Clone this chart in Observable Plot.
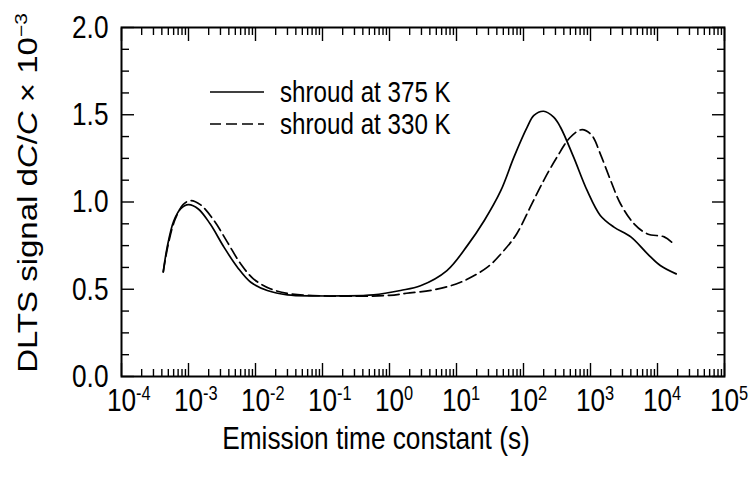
<!DOCTYPE html>
<html><head><meta charset="utf-8">
<script src="https://cdn.jsdelivr.net/npm/d3@7"></script>
<script src="https://cdn.jsdelivr.net/npm/@observablehq/plot@0.6"></script>
<style>body{margin:0;background:#fff} svg{display:block}</style>
</head><body><div id="chart"></div>
<script>
// Series: shroud at 375 K (solid)
const solidT = [4.2e-4, 4.8e-4, 6.0e-4, 7.6e-4, 1.0e-3, 1.4e-3, 2.1e-3, 3.4e-3, 5.4e-3, 8.5e-3, 0.015, 0.03, 0.074, 0.19, 0.58, 1.46, 2.9, 7.2, 14.5, 26, 46, 72, 114, 143, 200, 282, 355, 560, 890, 1400, 2240, 4000, 7100, 11000, 19000];
const solidV = [0.60, 0.74, 0.89, 0.96, 0.985, 0.96, 0.875, 0.74, 0.625, 0.54, 0.493, 0.468, 0.462, 0.462, 0.468, 0.493, 0.52, 0.607, 0.75, 0.894, 1.066, 1.257, 1.43, 1.496, 1.52, 1.486, 1.43, 1.257, 1.066, 0.923, 0.856, 0.80, 0.703, 0.636, 0.588];
// Series: shroud at 330 K (dashed)
const dashT = [4.2e-4, 5.0e-4, 6.3e-4, 8.3e-4, 1.07e-3, 1.5e-3, 2.4e-3, 3.8e-3, 6.0e-3, 9.3e-3, 0.0166, 0.033, 0.1, 0.32, 1.0, 1.8, 4.6, 11.5, 29, 51, 79, 126, 200, 316, 500, 750, 1050, 1400, 2000, 2800, 4470, 7100, 12600, 17400];
const dashV = [0.60, 0.76, 0.90, 0.985, 1.008, 0.985, 0.894, 0.77, 0.646, 0.56, 0.503, 0.474, 0.462, 0.46, 0.465, 0.477, 0.497, 0.54, 0.627, 0.722, 0.817, 0.97, 1.123, 1.257, 1.371, 1.415, 1.381, 1.276, 1.123, 0.99, 0.875, 0.817, 0.80, 0.76];

const legendLabels = ["shroud at 375 K", "shroud at 330 K"];
const xTitle = "Emission time constant (s)";
const yTitle = "DLTS signal dC/C × 10−3";
const xMajor = [1e-4, 1e-3, 1e-2, 1e-1, 1e0, 1e1, 1e2, 1e3, 1e4, 1e5];
const xExp = ["-4", "-3", "-2", "-1", "0", "1", "2", "3", "4", "5"];
const yMajor = [0, 0.5, 1.0, 1.5, 2.0];
const yMinor = [0.125, 0.25, 0.375, 0.625, 0.75, 0.875, 1.125, 1.25, 1.375, 1.625, 1.75, 1.875];
const xMinor = [];
for (let k = -4; k <= 4; k++) for (let m = 2; m <= 9; m++) xMinor.push(m * Math.pow(10, k));

const solid = solidT.map((t, i) => ({t, v: solidV[i]}));
const dashed = dashT.map((t, i) => ({t, v: dashV[i]}));

const font = "'Liberation Sans', Arial, Helvetica, sans-serif";
const SQ = 0.82; // horizontal condensing of the lettering
const tickOpts = {fill: "none", label: null, stroke: "black", strokeWidth: 1.4};

const plot = Plot.plot({
  width: 751, height: 483,
  marginLeft: 121, marginRight: 27, marginTop: 27, marginBottom: 107,
  style: {fontFamily: font, background: "white", color: "black"},
  x: {type: "log", domain: [1e-4, 1e5], axis: null},
  y: {domain: [0, 2], axis: null},
  marks: [
    Plot.axisX(xMinor, {anchor: "bottom", tickSize: -7, ...tickOpts}),
    Plot.axisX(xMinor, {anchor: "top", tickSize: -7, ...tickOpts}),
    Plot.axisX(xMajor, {anchor: "bottom", tickSize: -13, ...tickOpts}),
    Plot.axisX(xMajor, {anchor: "top", tickSize: -13, ...tickOpts}),
    Plot.axisY(yMinor, {anchor: "left", tickSize: -8, ...tickOpts}),
    Plot.axisY(yMinor, {anchor: "right", tickSize: -8, ...tickOpts}),
    Plot.axisY(yMajor, {anchor: "left", tickSize: -13, ...tickOpts}),
    Plot.axisY(yMajor, {anchor: "right", tickSize: -13, ...tickOpts}),
    Plot.axisX(xMajor, {anchor: "bottom", tickSize: 0, tickPadding: 12, fontSize: 32, label: null,
      tickFormat: d => "§" + xExp[xMajor.indexOf(d)]}),
    Plot.axisY(yMajor, {anchor: "left", tickSize: 0, tickPadding: 13, fontSize: 32, label: null,
      tickFormat: d3.format(".1f")}),
    Plot.frame({stroke: "black", strokeWidth: 2}),
    Plot.line(solid, {x: "t", y: "v", curve: "catmull-rom", stroke: "black", strokeWidth: 1.7}),
    Plot.line(dashed, {x: "t", y: "v", curve: "catmull-rom", stroke: "black", strokeWidth: 1.7, strokeDasharray: "11,5"}),
    Plot.text([xTitle], {frameAnchor: "bottom", lineAnchor: "middle", dx: -47, dy: 62, text: d => d, fontSize: 32}),
    Plot.text([yTitle], {frameAnchor: "left", textAnchor: "middle", lineAnchor: "middle", dx: -93, dy: -9, rotate: -90, text: d => d, fontSize: 33})
  ]
});
document.getElementById("chart").appendChild(plot);

const svg = d3.select(plot);
const NS = "http://www.w3.org/2000/svg";
// wrap a text in a group and condense it horizontally about an anchor x
function condenseX(el, sx, shift) {
  const g = document.createElementNS(NS, "g");
  el.parentNode.insertBefore(g, el);
  g.appendChild(el);
  const bb = g.getBBox();
  const ta = getComputedStyle(el).textAnchor;
  let ax = ta === "end" ? bb.x + bb.width : (ta === "middle" ? bb.x + bb.width / 2 : bb.x);
  ax -= (shift || 0);
  g.setAttribute("transform", `translate(${ax},0) scale(${sx},1) translate(${-ax},0)`);
}
// superscript exponents on x tick labels
const xLabelNodes = [];
svg.selectAll("text").filter(function() { return this.textContent.startsWith("§"); }).each(function() {
  const t = d3.select(this);
  const e = this.textContent.slice(1);
  t.text(null);
  t.append("tspan").text("10");
  const sup = t.append("tspan").attr("dy", "-0.55em").attr("font-size", "20px").text(e);
  const w = sup.node().getComputedTextLength();
  t.attr("dx", w / 2);
  xLabelNodes.push([this, w / 2]);
});
// y label with italic C and superscript
svg.selectAll("text").filter(function() { return this.textContent === yTitle; }).each(function() {
  const yl = d3.select(this);
  yl.text(null);
  yl.append("tspan").text("DLTS signal d");
  yl.append("tspan").attr("font-style", "italic").text("C");
  yl.append("tspan").text("/");
  yl.append("tspan").attr("font-style", "italic").text("C");
  yl.append("tspan").text(" × 10");
  yl.append("tspan").attr("dy", "-0.6em").attr("font-size", "21px").text("−3");
});
// condense all lettering horizontally
const allTexts = Array.from(plot.querySelectorAll("text"));
allTexts.forEach(el => {
  const found = xLabelNodes.find(p => p[0] === el);
  condenseX(el, SQ, found ? found[1] : 0);
});

// legend
const lg = svg.append("g").attr("font-family", font).attr("font-size", 29.5).attr("text-anchor", "start");
const ly = [92, 124];
legendLabels.forEach((lab, i) => {
  lg.append("line").attr("x1", 210).attr("x2", 264).attr("y1", ly[i]).attr("y2", ly[i])
    .attr("stroke", "black").attr("stroke-width", 1.7)
    .attr("stroke-dasharray", i === 1 ? "11,5" : null);
  lg.append("text").attr("transform", `translate(280,${ly[i]}) scale(${SQ},1)`)
    .attr("dy", "0.35em").attr("fill", "black").text(lab);
});
</script>
</body></html>
